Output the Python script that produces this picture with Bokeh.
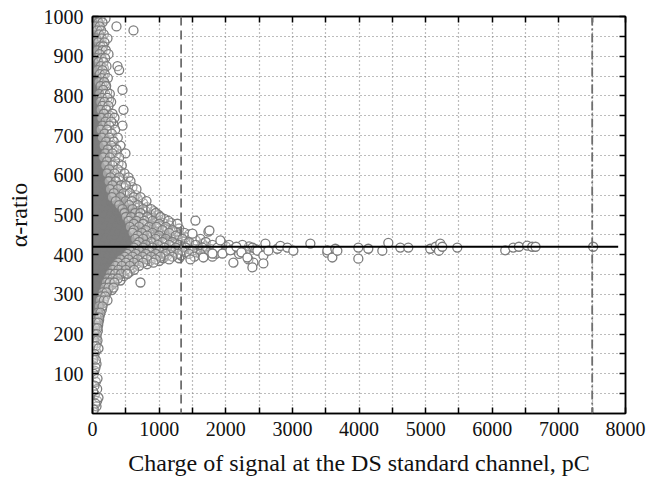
from bokeh.plotting import figure
from bokeh.models import Range1d, FixedTicker, LinearAxis, Span, CustomJSTickFormatter
from bokeh.embed import file_html
from bokeh.resources import INLINE

# ---------------- data ----------------
# dense core of the scatter (saturated grey region): rows of (alpha-ratio, [charges])
core_rows = [
    (995, [0, 20, 45]), (980, [5, 35]), (965, [0, 25, 50]), (950, [10, 45]), (935, [0, 30, 60]),
    (920, [10, 50]), (905, [0, 35, 70]), (890, [15, 55]), (875, [0, 40, 80]), (860, [20, 65]),
    (845, [0, 45, 90]), (830, [15, 70]), (815, [0, 50, 100]), (800, [20, 75]), (785, [0, 55, 105]),
    (770, [25, 80, 115]), (755, [0, 60, 120]), (740, [30, 90, 130]), (725, [0, 65, 135]),
    (710, [35, 100, 150]), (695, [0, 60, 120, 160]), (680, [25, 95, 170]),
    (665, [0, 60, 120, 180]), (650, [30, 100, 190]), (635, [0, 70, 140, 200]),
    (620, [30, 100, 170, 220]), (605, [0, 70, 150, 240]), (590, [35, 110, 190, 260]),
    (575, [0, 80, 160, 240, 300]), (560, [40, 120, 200, 280, 340]),
    (545, [0, 80, 160, 240, 320, 400]), (530, [40, 120, 200, 280, 360, 440]),
    (515, [0, 80, 160, 240, 320, 400, 480, 540]),
    (500, [40, 120, 200, 280, 360, 440, 520, 600]),
    (485, [0, 80, 160, 240, 320, 400, 480, 560, 640]),
    (470, [40, 120, 200, 280, 360, 440, 520, 600, 680]),
    (455, [0, 80, 160, 240, 320, 400, 480, 560, 640, 720]),
    (440, [40, 120, 200, 280, 360, 440, 520, 600, 680, 760]),
    (425, [0, 80, 160, 240, 320, 400, 480, 560, 640, 720, 800]),
    (410, [40, 120, 200, 280, 360, 440, 520, 600, 680, 740]),
    (395, [0, 80, 160, 240, 320, 400, 480, 560, 620]),
    (380, [40, 120, 200, 280, 360, 440, 500]),
    (365, [0, 80, 160, 240, 320, 380]), (350, [30, 110, 180, 250, 300]),
    (335, [0, 70, 140, 200, 240]), (320, [30, 100, 160]), (305, [0, 65, 130]),
    (290, [25, 60, 110]), (275, [0, 45, 90]), (260, [15, 30, 70]), (245, [0, 20, 55]),
    (230, [10, 40]), (215, [0, 30]), (200, [5, 20]),
]

# individual circles around the core: rows of (alpha-ratio, [charges])
cloud_rows = [
    (995, [60, 120, 195]), (985, [90, 150]), (975, [40, 110, 360]), (965, [70, 130, 615]),
    (955, [100, 170]), (945, [55, 140, 225]), (935, [85, 180]), (925, [120, 160]),
    (915, [70, 150, 200]), (905, [105, 240]), (895, [60, 135, 190]), (885, [90, 165]),
    (875, [125, 210, 375]), (865, [75, 150, 400]), (855, [110, 185]), (845, [140, 230]),
    (835, [90, 175]), (825, [120, 205]), (815, [160, 450]), (805, [100, 190, 260]),
    (795, [140, 225]), (785, [115, 180, 280]), (775, [150, 240]), (765, [120, 210, 465]),
    (755, [170, 300]), (745, [130, 235, 330]), (735, [195, 280]), (725, [150, 250, 450]),
    (715, [120, 220, 340]), (705, [180, 290]), (695, [140, 250, 380]), (685, [205, 320]),
    (675, [165, 280, 420]), (665, [230, 360]), (655, [190, 300, 495]), (645, [160, 260, 400]),
    (635, [220, 340]), (625, [190, 300, 440]), (615, [250, 380]), (605, [215, 330, 480]),
    (595, [270, 400, 540]), (585, [240, 350, 570]), (575, [300, 430, 500]),
    (565, [260, 380, 660]), (555, [320, 470, 560]), (545, [290, 420, 620, 720]),
    (535, [350, 500, 590, 810]), (525, [400, 550, 680]), (515, [450, 600, 760, 880]),
    (505, [480, 640, 720, 950]), (495, [500, 580, 700, 820, 1020]),
    (485, [540, 660, 780, 900, 1140]), (478, [620, 760, 1000, 1275]),
    (470, [560, 700, 850, 960, 1100]), (462, [620, 800, 1050, 1200]),
    (455, [600, 740, 900, 1150, 1380]), (448, [680, 820, 1000, 1250]),
    (440, [640, 760, 950, 1100, 1350, 1620]), (432, [700, 880, 1050, 1200, 1450, 1700]),
    (425, [660, 800, 980, 1150, 1300, 1550, 1800, 2050, 2250]),
    (418, [620, 760, 900, 1080, 1250, 1400, 1650, 1900, 2150, 2400, 2600]),
    (410, [560, 700, 850, 1000, 1180, 1350, 1500, 1700, 2000, 2300, 2550]),
    (402, [520, 650, 800, 950, 1100, 1280, 1450, 1620, 1850, 2200]),
    (395, [480, 600, 750, 880, 1020, 1200, 1530, 1800]),
    (388, [420, 540, 680, 820, 950, 1150, 1470, 2340]),
    (380, [380, 500, 620, 760, 915, 2415]), (372, [340, 440, 560, 700]),
    (362, [300, 390, 500, 625]), (352, [260, 340, 430, 525]), (340, [230, 300, 380]),
    (330, [200, 260, 330, 720]), (317, [180, 240, 315]), (305, [150, 210]),
    (295, [130, 190]), (285, [110, 170, 225]), (270, [95, 150]), (254, [80, 120]),
    (242, [60, 100]), (229, [50, 90]), (215, [40, 75]), (200, [30, 65]), (184, [20, 75]),
    (170, [10, 50]), (164, [90]), (150, [30]), (135, [10, 50]), (116, [45]), (100, [20]),
    (88, [75]), (70, [30]), (55, [10]), (40, [90]), (25, [45]), (10, [20]),
]

# further overlapping circles inside the half-tone zone: rows of (alpha-ratio, [charges])
halftone_rows = [
    (990, [30, 80]), (970, [20, 95]), (950, [80, 130]), (930, [50, 110, 150]),
    (910, [40, 125]), (890, [80, 145]), (870, [50, 100, 170]), (850, [70, 160]),
    (830, [60, 140, 190]), (810, [80, 130, 220]), (790, [70, 165, 250]), (770, [90, 190]),
    (750, [100, 150, 260]), (730, [110, 200, 310]), (710, [160, 260]), (690, [180, 300]),
    (670, [130, 220, 330]), (650, [230, 350]), (630, [150, 260, 390]), (610, [190, 300, 420]),
    (590, [200, 320, 460]), (570, [230, 350, 470, 600]), (560, [400, 520]),
    (550, [250, 370, 500, 650]), (540, [450, 560, 680]), (530, [300, 430, 640, 760]),
    (520, [480, 570, 700, 820]), (510, [380, 520, 680, 800, 920]),
    (500, [560, 650, 760, 880, 990]), (490, [420, 620, 740, 860, 960, 1080]),
    (480, [480, 700, 820, 940, 1060, 1180]), (474, [560, 880, 1150]),
    (466, [660, 760, 900, 1000, 1120, 1300]), (458, [700, 860, 980, 1080, 1250]),
    (451, [760, 940, 1100, 1300, 1450]), (444, [720, 880, 1030, 1180, 1400]),
    (436, [780, 960, 1120, 1280, 1550]), (428, [750, 900, 1080, 1230, 1400, 1650, 1950]),
    (421, [840, 1020, 1200, 1380, 1700, 2000, 2350]),
    (414, [700, 820, 980, 1150, 1300, 1450, 1600, 1780, 2100, 2450]),
    (406, [620, 760, 900, 1060, 1220, 1400, 1560, 1750, 1950, 2250]),
    (398, [560, 700, 820, 980, 1120, 1330, 1650]), (391, [500, 640, 760, 900, 1060, 1300]),
    (384, [460, 580, 720, 860, 1000]), (376, [400, 520, 660, 820]), (367, [360, 470, 600]),
    (357, [320, 420, 560]), (346, [280, 360, 470]), (335, [240, 320, 420]), (324, [220, 290]),
    (311, [160, 230, 290]), (300, [140, 200]), (290, [120, 180]), (278, [100, 160]),
    (262, [90, 140]), (248, [70, 110]), (236, [60, 100]), (222, [50, 85]), (208, [35, 80]),
    (192, [25, 60]), (177, [15, 60]), (157, [50]), (142, [20]), (125, [60]), (108, [30]),
    (80, [50]), (62, [70]), (48, [35]), (32, [70]), (18, [60]), (5, [10]),
]

# sparse points at larger charge (charge, alpha-ratio)
sparse_charge = [1545, 1500, 1740, 1755, 1875, 1800, 1665, 1920, 1950, 2070, 2115, 2160,
                 2235, 2325, 2400, 2475, 2565, 2565, 2595, 2640, 2775, 2820, 2925, 3015,
                 3270, 3525, 3525, 3600, 3645, 3675, 3990, 3990, 4140, 4350, 4440, 4620,
                 4740, 5070, 5150, 5200, 5220, 5250, 5475, 6195, 6315, 6400, 6525, 6600,
                 6650, 7515]
sparse_ratio = [486, 453, 458, 461, 418, 403, 393, 436, 403, 411, 380, 420,
                406, 393, 368, 410, 398, 378, 428, 410, 415, 422, 418, 410,
                428, 405, 411, 393, 415, 410, 418, 390, 415, 410, 430, 418,
                418, 415, 420, 410, 428, 420, 418, 411, 418, 420, 423, 420,
                420, 420]

mean_ratio = 420          # horizontal mean line
mean_line_end = 7890      # charge where the mean line stops
threshold_charges = [1330, 7500]

x_labels = [0, 1000, 2000, 3000, 4000, 5000, 6000, 7000, 8000]
x_minor = [500, 1500, 2500, 3500, 4500, 5500, 6500, 7500]
y_labels = [100, 200, 300, 400, 500, 600, 700, 800, 900, 1000]
y_minor = [50, 150, 250, 350, 450, 550, 650, 750, 850, 950]

# ---------------- build ----------------
def flatten(rows):
    xs, ys = [], []
    for yv, row in rows:
        for xv in row:
            xs.append(xv)
            ys.append(yv)
    return xs, ys

core_x, core_y = flatten(core_rows)
cloud_x, cloud_y = flatten(cloud_rows)
half_x, half_y = flatten(halftone_rows)

GREY = "#7d7d7d"
FONT = "Liberation Serif"

p = figure(width=646, height=488, output_backend="svg", toolbar_location=None,
           x_range=Range1d(0, 8000), y_range=Range1d(0, 1000),
           min_border_left=92, min_border_right=21, min_border_top=16, min_border_bottom=75)
p.background_fill_color = "white"
p.border_fill_color = "white"
p.outline_line_color = "black"
p.outline_line_width = 1.5

xt = FixedTicker(ticks=x_labels, minor_ticks=x_minor)
yt = FixedTicker(ticks=y_labels, minor_ticks=y_minor)

for ax, tk in ((p.xaxis[0], xt), (p.yaxis[0], yt)):
    ax.ticker = tk
    ax.axis_line_color = "black"
    ax.axis_line_width = 1.5
    ax.major_tick_in = 6
    ax.major_tick_out = 0
    ax.minor_tick_in = 6
    ax.minor_tick_out = 0
    ax.major_tick_line_color = "black"
    ax.minor_tick_line_color = "black"
    ax.major_tick_line_width = 1.5
    ax.minor_tick_line_width = 1.5
    ax.major_label_text_font = FONT
    ax.major_label_text_font_size = "20px"
    ax.major_label_text_color = "#111111"
    ax.axis_label_text_font = FONT
    ax.axis_label_text_font_size = "24px"
    ax.axis_label_text_font_style = "normal"
    ax.axis_label_text_color = "#111111"

p.xaxis.axis_label = "Charge of signal at the DS standard channel, pC"
p.yaxis.axis_label = "α-ratio"
p.xaxis.major_label_standoff = 8
p.yaxis.major_label_standoff = 9
p.xaxis.axis_label_standoff = 11
p.yaxis.axis_label_standoff = 9

for loc, tk in (("above", xt), ("right", yt)):
    ax = LinearAxis(ticker=tk, formatter=CustomJSTickFormatter(code="return ''"))
    ax.axis_line_color = "black"
    ax.axis_line_width = 1.5
    ax.major_tick_in = 6
    ax.major_tick_out = 0
    ax.minor_tick_in = 6
    ax.minor_tick_out = 0
    ax.major_tick_line_width = 1.5
    ax.minor_tick_line_width = 1.5
    ax.major_label_text_color = None
    ax.major_label_standoff = 0
    p.add_layout(ax, loc)

for g in (p.xgrid[0], p.ygrid[0]):
    g.grid_line_color = "#7a7a7a"
    g.grid_line_dash = "1 3"
    g.grid_line_width = 1.2
    g.minor_grid_line_color = "#7a7a7a"
    g.minor_grid_line_dash = "1 3"
    g.minor_grid_line_width = 1.2
p.xgrid[0].ticker = xt
p.ygrid[0].ticker = yt

p.scatter(core_x, core_y, size=9, marker="circle", fill_color=GREY, line_color=GREY, line_width=1.2)
p.scatter(half_x, half_y, size=9, marker="circle", fill_color=None,
          line_color=GREY, line_width=1.3)
p.scatter(cloud_x, cloud_y, size=9, marker="circle", fill_color="white", fill_alpha=0.3,
          line_color=GREY, line_width=1.3)
p.scatter(sparse_charge, sparse_ratio, size=9, marker="circle", fill_color="white",
          line_color=GREY, line_width=1.3)

p.add_layout(Span(location=threshold_charges[0], dimension="height", line_color="#6e6e6e",
                  line_width=1.8, line_dash="9 5"))
p.add_layout(Span(location=threshold_charges[1], dimension="height", line_color="#6e6e6e",
                  line_width=1.8, line_dash="9 3 2 3"))
p.line([0, mean_line_end], [mean_ratio, mean_ratio], line_color="black", line_width=2)

open("out.html", "w").write(file_html(p, INLINE))
